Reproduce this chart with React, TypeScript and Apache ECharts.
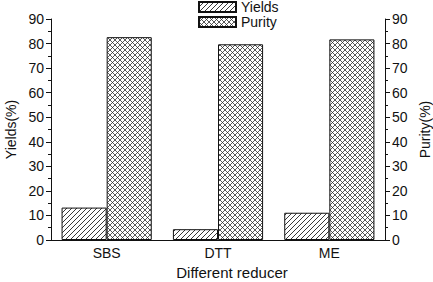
import React, { useEffect, useRef } from "react";
import * as echarts from "echarts";

const categories = ["SBS", "DTT", "ME"];
const yieldsValues = [13.2, 4.4, 11.1];
const purityValues = [82.6, 79.7, 81.7];
const seriesNames = ["Yields", "Purity"];

const FONT = "'Liberation Sans', Arial, sans-serif";

// Single-direction "/" hatch tile
function makeHatch(size: number, lineWidth: number): HTMLCanvasElement {
  const c = document.createElement("canvas");
  c.width = size;
  c.height = size;
  const ctx = c.getContext("2d")!;
  ctx.fillStyle = "#ffffff";
  ctx.fillRect(0, 0, size, size);
  ctx.strokeStyle = "#222222";
  ctx.lineWidth = lineWidth;
  for (const x0 of [-size, 0, size]) {
    ctx.beginPath();
    ctx.moveTo(x0, size);
    ctx.lineTo(x0 + size, 0);
    ctx.stroke();
  }
  return c;
}

// Crossed "X" hatch tile
function makeCross(size: number, lineWidth: number): HTMLCanvasElement {
  const c = document.createElement("canvas");
  c.width = size;
  c.height = size;
  const ctx = c.getContext("2d")!;
  ctx.fillStyle = "#ffffff";
  ctx.fillRect(0, 0, size, size);
  ctx.strokeStyle = "#222222";
  ctx.lineWidth = lineWidth;
  const half = size / 2;
  for (const x0 of [-size, -half, 0, half, size]) {
    ctx.beginPath();
    ctx.moveTo(x0, size);
    ctx.lineTo(x0 + size, 0);
    ctx.stroke();
    ctx.beginPath();
    ctx.moveTo(x0, 0);
    ctx.lineTo(x0 + size, size);
    ctx.stroke();
  }
  return c;
}

export default function App() {
  const ref = useRef<HTMLDivElement>(null);

  useEffect(() => {
    if (!ref.current) return;
    const chart = echarts.init(ref.current, undefined, { renderer: "svg" });

    const hatch = makeHatch(5, 0.9);
    const cross = makeCross(10, 0.75);

    const axisText = { color: "#111", fontFamily: FONT, fontSize: 14 };
    const nameText = { color: "#111", fontFamily: FONT, fontSize: 14 };

    const yAxisCommon = {
      type: "value" as const,
      min: 0,
      max: 90,
      interval: 10,
      nameLocation: "middle" as const,
      nameTextStyle: { ...nameText },
      axisLine: { show: true, lineStyle: { color: "#111", width: 1 } },
      axisTick: { show: true, inside: false, length: 5, lineStyle: { color: "#111" } },
      minorTick: { show: true, splitNumber: 2, length: 3, lineStyle: { color: "#111" } },
      splitLine: { show: false },
      axisLabel: { ...axisText, margin: 7 },
    };

    chart.setOption({
      animation: false,
      backgroundColor: "#ffffff",
      grid: { left: 51, right: 48, top: 19, bottom: 42, outerBoundsMode: "none", containLabel: false },
      legend: {
        orient: "vertical",
        left: 198,
        top: 0,
        padding: 0,
        itemWidth: 37,
        itemHeight: 10,
        itemGap: 1,
        icon: "rect",
        textStyle: { ...axisText },
        data: seriesNames,
      },
      xAxis: {
        type: "category",
        data: categories,
        name: "Different reducer",
        nameLocation: "middle",
        nameGap: 25,
        nameTextStyle: { ...nameText, fontSize: 15, padding: [0, 0, 0, 28] },
        axisLine: { show: true, lineStyle: { color: "#111", width: 1 } },
        axisTick: { show: false },
        axisLabel: { ...axisText, margin: 6 },
      },
      yAxis: [
        { ...yAxisCommon, position: "left", name: "Yields(%)", nameGap: 33 },
        { ...yAxisCommon, position: "right", name: "Purity(%)", nameGap: 30 },
      ],
      series: [
        {
          name: seriesNames[0],
          type: "bar",
          yAxisIndex: 0,
          data: yieldsValues,
          barGap: "0%",
          barCategoryGap: "19%",
          itemStyle: {
            color: { image: hatch, repeat: "repeat" },
            borderColor: "#111",
            borderWidth: 1,
          },
        },
        {
          name: seriesNames[1],
          type: "bar",
          yAxisIndex: 1,
          data: purityValues,
          barGap: "0%",
          barCategoryGap: "19%",
          itemStyle: {
            color: { image: cross, repeat: "repeat" },
            borderColor: "#111",
            borderWidth: 1,
          },
        },
      ],
    });

    return () => chart.dispose();
  }, []);

  return <div ref={ref} style={{ width: 433, height: 282, position: "absolute", left: 0, top: 0 }} />;
}
